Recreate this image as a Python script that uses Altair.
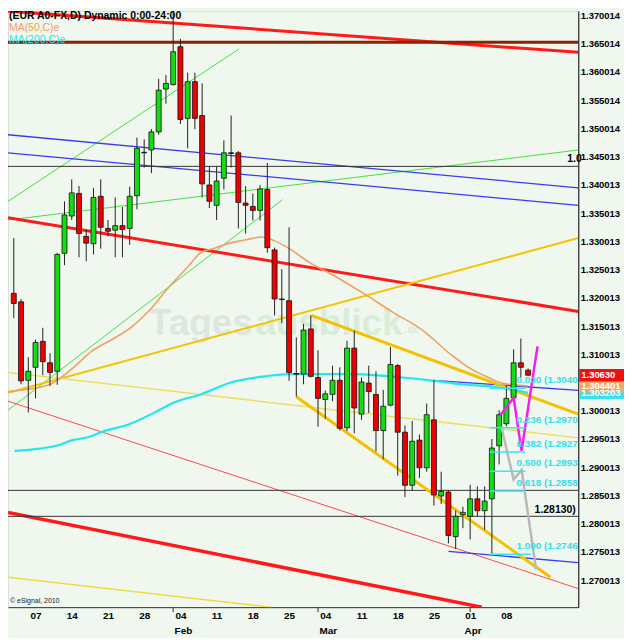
import altair as alt
import pandas as pd

# ---------------- data ----------------
candle_idx = list(range(1, 73))
opens = [1.3208,1.3193,1.3054,1.3077,1.3123,1.3085,1.3070,1.3279,1.3345,1.3385,
         1.3309,1.3296,1.3380,1.3323,1.3320,1.3328,1.3323,1.3381,1.3457,1.3462,
         1.3494,1.3570,1.3578,1.3645,1.3518,1.3583,1.3523,1.3400,1.3364,1.3412,
         1.3457,1.3457,1.3368,1.3362,1.3355,1.3392,1.3285,1.3198,1.3195,1.3066,
         1.3065,1.3145,1.3059,1.3020,1.3029,1.3054,1.2970,1.3111,1.2994,1.3049,
         1.3029,1.2965,1.3010,1.3080,1.2962,1.2868,1.2948,1.2899,1.2984,1.2849,
         1.2856,1.2777,1.2816,1.2813,1.2844,1.2823,1.2844,1.2938,1.2977,1.3023,
         1.3085,1.3072]
highs = [1.3306,1.3198,1.3095,1.3126,1.3147,1.3102,1.3280,1.3371,1.3410,1.3398,
         1.3320,1.3395,1.3410,1.3338,1.3378,1.3361,1.3397,1.3484,1.3481,1.3499,
         1.3588,1.3595,1.3710,1.3659,1.3599,1.3599,1.3580,1.3433,1.3433,1.3479,
         1.3523,1.3460,1.3398,1.3385,1.3400,1.3439,1.3289,1.3251,1.3325,1.3130,
         1.3154,1.3169,1.3107,1.3036,1.3080,1.3077,1.3124,1.3142,1.3059,1.3080,
         1.3070,1.3037,1.3113,1.3083,1.2974,1.2982,1.2958,1.3013,1.3054,1.2892,
         1.2859,1.2823,1.2830,1.2869,1.2866,1.2866,1.2950,1.3001,1.3044,1.3109,
         1.3128,1.3075]
lows = [1.3164,1.3047,1.2997,1.3022,1.3063,1.3044,1.3046,1.3258,1.3338,1.3272,
        1.3265,1.3277,1.3287,1.3309,1.3272,1.3272,1.3294,1.3357,1.3431,1.3421,
        1.3489,1.3544,1.3576,1.3508,1.3465,1.3499,1.3378,1.3359,1.3338,1.3392,
        1.3431,1.3323,1.3314,1.3337,1.3337,1.3280,1.3169,1.3155,1.3053,1.3025,
        1.3047,1.3059,1.2972,1.2986,1.3017,1.2965,1.2964,1.2960,1.2984,1.2996,
        1.2928,1.2914,1.3008,1.2885,1.2847,1.2859,1.2881,1.2892,1.2832,1.2835,
        1.2765,1.2755,1.2792,1.2772,1.2813,1.2789,1.2745,1.2905,1.2972,1.3015,
        1.3059,1.3062]
closes = [1.3190,1.3053,1.3070,1.3121,1.3087,1.3068,1.3277,1.3347,1.3386,1.3314,
          1.3297,1.3378,1.3325,1.3318,1.3328,1.3321,1.3380,1.3465,1.3458,1.3494,
          1.3568,1.3580,1.3636,1.3516,1.3583,1.3518,1.3402,1.3371,1.3407,1.3457,
          1.3456,1.3369,1.3364,1.3355,1.3393,1.3289,1.3198,1.3197,1.3068,1.3065,
          1.3143,1.3061,1.3022,1.3030,1.3054,1.2969,1.3111,1.3005,1.3051,1.3034,
          1.2965,1.3008,1.3082,1.2962,1.2868,1.2946,1.2899,1.2993,1.2851,1.2857,
          1.2779,1.2813,1.2820,1.2844,1.2823,1.2840,1.2934,1.2993,1.3022,1.3085,
          1.3077,1.3063]

# x-axis (Mondays) and months
tick_idx = [4, 9, 14, 19, 24, 29, 34, 39, 44, 49, 54, 59, 64, 69]
tick_lbl = ["07", "14", "21", "28", "04", "11", "18", "25", "04", "11", "18", "25", "01", "08"]
month_idx = [24, 44, 64]
month_lbl = ["Feb", "Mar", "Apr"]
month_start_idx = [23, 43, 64]

# 1.305013 sits under the price badges in the original, so it is not listed
y_ticks = [1.270013, 1.275013, 1.280013, 1.285013, 1.290013, 1.295013, 1.300013,
           1.310013, 1.315013, 1.320013, 1.325013, 1.330013, 1.335013,
           1.340013, 1.345013, 1.350014, 1.355014, 1.360014, 1.365014, 1.370014]

# trend lines (index, price) -> (index, price)
seg_x1 = [0.2, 0.2, 0.2, 0.2, 0.2, 0.2, 0.2, 0.2, 0.2, 0.2, 0.2, 0.2, 0.2, 0.2, 0.2, 0.2, 61.0, 59.0, 42.1, 40.0]
seg_p1 = [1.3708, 1.3653, 1.3371, 1.3001, 1.3338, 1.3489, 1.3457, 1.3433, 1.3342, 1.3032,
          1.3068, 1.2705, 1.3017, 1.2820, 1.2859, 1.2813, 1.2751, 1.3054, 1.3169, 1.3025]
seg_x2 = [78.93, 78.93, 32.1, 38.1, 78.93, 78.93, 78.93, 78.93, 78.93, 78.93,
          78.93, 36.5, 78.93, 65.6, 78.93, 78.93, 78.93, 78.93, 78.93, 75.1]
seg_p2 = [1.3635, 1.3653, 1.3641, 1.3374, 1.3462, 1.3395, 1.3364, 1.3433, 1.3176, 1.3306,
          1.2952, 1.2652, 1.2685, 1.2652, 1.2859, 1.2813, 1.2731, 1.3036, 1.2994, 1.2705]
seg_col = ["#FF1A1A", "#8B2200", "#44E044", "#44E044", "#44E044", "#3A3AF0", "#3A3AF0", "#333333",
           "#FF1A1A", "#F5C400", "#EEDD60", "#EEDD40", "#FF4A4A", "#FF1A1A", "#333333", "#333333",
           "#3A3AF0", "#3A3AF0", "#F5C000", "#F5C000"]
seg_w = [3, 3, 1, 1, 1, 1.3, 1.3, 1, 3, 2, 1.5, 1.5, 1, 3.5, 1, 1, 1.3, 1.3, 3, 3]

# moving averages
ma50_i = [0.2, 5.9, 7.3, 9.1, 11.8, 14.8, 17.1, 19.8, 22.4, 25.1, 26.8, 28.5, 30.8, 33.1,
          35.2, 37.0, 38.8, 41.8, 45.4, 49.4, 53.4, 57.4, 61.4, 64.0, 66.7, 68.4, 72.0]
ma50_p = [1.3034, 1.3046, 1.3057, 1.3075, 1.3106, 1.3128, 1.3147, 1.3179, 1.3219, 1.3256,
          1.3280, 1.3287, 1.3297, 1.3303, 1.3308, 1.3301, 1.3289, 1.3263, 1.3238, 1.3207,
          1.3174, 1.3143, 1.3099, 1.3075, 1.3058, 1.3049, 1.3044]
ma200_i = [1.1, 4.6, 6.9, 9.1, 11.2, 13.5, 17.1, 20.6, 23.2, 26.8, 31.2, 35.7, 39.2, 48.1,
           54.7, 59.1, 62.7, 67.6, 72.0]
ma200_p = [1.2929, 1.2933, 1.2938, 1.2948, 1.2953, 1.2964, 1.2977, 1.2998, 1.3015, 1.3029,
           1.3051, 1.3061, 1.3065, 1.3065, 1.3059, 1.3053, 1.3047, 1.3042, 1.3032]

# projections
mag_i = [68.2, 70.0, 71.1, 73.3]
mag_p = [1.2993, 1.3023, 1.2929, 1.3114]
gray_i = [68.3, 70.0, 71.1, 73.1]
gray_p = [1.2972, 1.2878, 1.2895, 1.2719]

# fibonacci (labels as visible in the original, cut at the price axis)
fib_ratio = ["0.000", "0.236", "0.382", "0.500", "0.618", "1.000"]
fib_val = [1.3040, 1.2970, 1.2927, 1.2893, 1.2858, 1.2746]
fib_start = 66.7
fib_end = [71.6, 71.6, 71.6, 71.6, 71.6, 72.4]
fib_label_idx = 70.4

# price badges
badge_val = [1.3032, 1.3044, 1.3063]
badge_txt = ["1.303203", "1.304401", "1.30630"]
badge_col = ["#3EE0EE", "#F0A868", "#F01010"]

# ---------------- layout ----------------
W, H = 574, 600
FONT = "Liberation Sans"
xs = alt.Scale(domain=[0.2, 78.93], nice=False, zero=False, padding=0)
ys = alt.Scale(domain=[1.26521, 1.37082], nice=False, zero=False, padding=0)

lbl_arr = "[" + ",".join("'%s'" % t for t in tick_lbl) + "]"
idx_arr = "[" + ",".join(str(v) for v in tick_idx) + "]"
xaxis = alt.Axis(values=tick_idx, labelExpr=f"{lbl_arr}[indexof({idx_arr}, datum.value)]",
                 orient="bottom", ticks=False, grid=False, labelFont=FONT, labelFontWeight="bold",
                 labelFontSize=10, labelColor="black", labelPadding=3,
                 domainColor="#333333", labelFlush=False, labelOverlap=False)
yaxis = alt.Axis(values=y_ticks, format=".6f", orient="right", ticks=False, grid=False,
                 labelFont=FONT, labelFontWeight="bold", labelFontSize=9.5, labelColor="black",
                 labelPadding=2, domainColor="black", labelOverlap=False, labelFlush=False)


def X(f):
    return alt.X(f, type="quantitative", scale=xs, axis=xaxis, title=None)


def Y(f):
    return alt.Y(f, type="quantitative", scale=ys, axis=yaxis, title=None)


def label(text, px, py, color, size, weight="normal"):
    return alt.Chart(pd.DataFrame({"t": [text]})).mark_text(
        align="left", baseline="middle", font=FONT, fontSize=size, fontWeight=weight, color=color
    ).encode(x=alt.value(px), y=alt.value(py), text="t:N")


cdf = pd.DataFrame({"i": candle_idx, "o": opens, "h": highs, "l": lows, "c": closes})
cdf["col"] = ["#11DD11" if c > o + 0.00015 else ("#EE0000" if c < o - 0.00015 else "#111111")
              for o, c in zip(opens, closes)]

seg = pd.DataFrame({"x1": seg_x1, "p1": seg_p1, "x2": seg_x2, "p2": seg_p2, "c": seg_col, "w": seg_w})
segs = alt.Chart(seg).mark_rule(clip=True).encode(
    x=X("x1"), y=Y("p1"), x2="x2", y2="p2",
    color=alt.Color("c:N", scale=None), strokeWidth=alt.StrokeWidth("w:Q", scale=None))

ma50 = alt.Chart(pd.DataFrame({"i": ma50_i, "p": ma50_p})).mark_line(
    color="#F0A060", strokeWidth=1.6, clip=True, interpolate="monotone").encode(x=X("i"), y=Y("p"))
ma200 = alt.Chart(pd.DataFrame({"i": ma200_i, "p": ma200_p})).mark_line(
    color="#22E6F0", strokeWidth=2.2, clip=True, interpolate="monotone").encode(x=X("i"), y=Y("p"))

wicks = alt.Chart(cdf).mark_rule(color="#222222", strokeWidth=1, clip=True).encode(
    x=X("i"), y=Y("l"), y2="h")
bodies = alt.Chart(cdf).mark_bar(width=5, stroke="#111111", strokeWidth=0.8, clip=True).encode(
    x=X("i"), y=Y("o"), y2="c", color=alt.Color("col:N", scale=None))

fdf = pd.DataFrame({"s": [fib_start] * len(fib_val), "e": fib_end, "v": fib_val,
                    "t": [f"{r} ({v:.4f}" for r, v in zip(fib_ratio, fib_val)],
                    "li": [fib_label_idx] * len(fib_val)})
fib_lines = alt.Chart(fdf).mark_rule(color="#40E4F0", strokeWidth=1.5, clip=True).encode(
    x=X("s"), x2="e", y=Y("v"))
fib_text = alt.Chart(fdf).mark_text(align="left", baseline="middle", dy=-8, font=FONT,
                                    fontWeight="bold", fontSize=10, color="#33DDEE").encode(
    x=X("li"), y=Y("v"), text="t:N")

gray = alt.Chart(pd.DataFrame({"i": gray_i, "p": gray_p})).mark_line(
    color="#B8B8B8", strokeWidth=2.5, clip=True).encode(x=X("i"), y=Y("p"))
mag = alt.Chart(pd.DataFrame({"i": mag_i, "p": mag_p})).mark_line(
    color="#F020E8", strokeWidth=2.5, clip=True).encode(x=X("i"), y=Y("p"))

ann = pd.DataFrame({"i": [72.9, 77.4], "p": [1.2825, 1.3446], "t": ["1.28130)", "1.0"]})
ann_text = alt.Chart(ann).mark_text(align="left", baseline="middle", font=FONT, fontWeight="bold",
                                    fontSize=10.5, color="black").encode(
    x=X("i"), y=Y("p"), text="t:N")

bdf = pd.DataFrame({"v": badge_val, "t": badge_txt, "c": badge_col, "o": [0, 1, 2]})
badge_rect = alt.Chart(bdf).transform_calculate(lo="datum.v - 0.00112", hi="datum.v + 0.00112").mark_rect().encode(
    x=alt.value(W + 1), x2=alt.value(W + 46), y=Y("lo:Q"), y2="hi:Q",
    color=alt.Color("c:N", scale=None), order="o:Q")
badge_text = alt.Chart(bdf).mark_text(align="left", baseline="middle", font=FONT, fontWeight="bold",
                                      fontSize=9.5, color="white").encode(
    x=alt.value(W + 3), y=Y("v"), text="t:N", order="o:Q")

mdf = pd.DataFrame({"i": month_idx, "t": month_lbl})
month_text = alt.Chart(mdf).mark_text(baseline="middle", dx=3, font=FONT, fontWeight="bold",
                                      fontSize=10, color="black").encode(
    x=X("i"), y=alt.value(H + 24), text="t:N")
mtick = alt.Chart(pd.DataFrame({"i": month_start_idx})).mark_rule(color="#333333").encode(
    x=X("i"), y=alt.value(H), y2=alt.value(H + 5))

title_t = label("(EUR A0-FX,D) Dynamic 0:00-24:00", 1, 5, "#000000", 10.5, "bold")
ma50_t = label("MA(50,C)e", 1, 17, "#F0A060", 10.5)
ma200_t = label("MA(200,C)e", 1, 29, "#22E6F0", 10.5)

wm1 = alt.Chart(pd.DataFrame({"t": ["Tages"]})).mark_text(
    align="left", baseline="alphabetic", font=FONT, fontWeight="bold", fontSize=37, color="#DEE6DE").encode(
    x=alt.value(142), y=alt.value(326), text="t:N")
wm2 = alt.Chart(pd.DataFrame({"t": ["ausblick"]})).mark_text(
    align="left", baseline="alphabetic", font=FONT, fontWeight="bold", fontSize=37, color="#D8EDD8").encode(
    x=alt.value(249), y=alt.value(326), text="t:N")
wm3 = alt.Chart(pd.DataFrame({"t": [".de"]})).mark_text(
    align="left", baseline="alphabetic", font=FONT, fontWeight="bold", fontSize=11, color="#D8EDD8").encode(
    x=alt.value(399), y=alt.value(324), text="t:N")

copy_t = label("\u00a9 eSignal, 2010", 2, H - 6, "#222222", 7)

chart = alt.layer(
    wm1, wm2, wm3, segs, ma50, ma200, wicks, bodies, gray, mag, fib_lines, fib_text, ann_text,
    mtick, month_text, copy_t, title_t, ma50_t, ma200_t, badge_rect, badge_text
).properties(width=W, height=H, padding=0).configure_view(stroke=None).configure(background="#EFF7EF")

chart.save("out.html", embed_options={"renderer": "svg", "actions": False})
